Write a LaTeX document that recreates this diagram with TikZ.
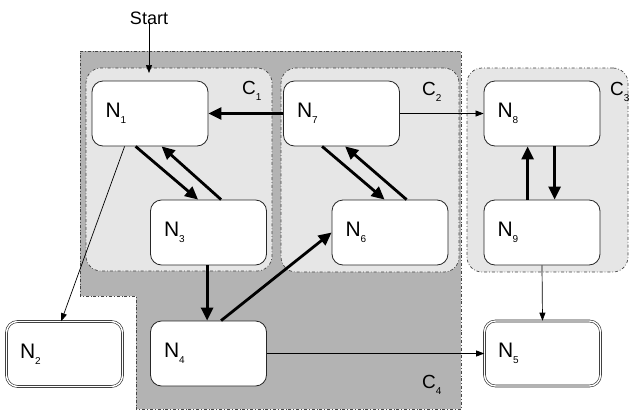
\documentclass[tikz,border=0pt]{standalone}
\usepackage{fontspec}
\setmainfont{Liberation Sans}
\usetikzlibrary{arrows.meta}
\definecolor{outerfill}{HTML}{B3B3B3}
\definecolor{innerfill}{HTML}{E6E6E6}
\definecolor{edgegray}{HTML}{444444}
\newcommand{\nsub}[2]{#1\raisebox{-6pt}{\fontsize{10}{10}\selectfont #2}}
\begin{document}
\begin{tikzpicture}[x=1pt,y=-1pt,
  cluster/.style={draw=edgegray, line width=0.7pt, dash dot, fill=innerfill,
    rounded corners=15pt},
  state/.style={draw=black!85, line width=0.8pt, fill=white, rounded corners=11pt,
    minimum width=116pt, minimum height=65pt, text width=89pt, inner xsep=13pt,
    align=left, font=\fontsize{21}{22}\selectfont},
  final/.style={state, double=white, double distance=1.4pt, line width=0.6pt},
  clabel/.style={font=\fontsize{19}{20}\selectfont, inner sep=0pt, anchor=west},
  thin/.style={line width=0.7pt, -{Triangle[length=8pt,width=6pt]}},
  thick/.style={line width=2.8pt, -{Triangle[length=13pt,width=12pt]}}]
\useasboundingbox (0,0) rectangle (630,410);

% outer cluster C4
\draw[fill=outerfill, draw=edgegray, line width=0.7pt, dash dot]
  (80,51) -- (461,51) -- (461,409) -- (136,409) -- (136,296) -- (80,296) -- cycle;

% inner clusters
\node[cluster, minimum width=186pt, minimum height=203pt] (c1) at (179,169.5) {};
\node[cluster, minimum width=178pt, minimum height=204pt] (c2) at (370,170) {};
\node[cluster, minimum width=161pt, minimum height=204pt] (c3) at (547.5,170) {};

\node[clabel] (l1) at (242,91) {\nsub{C}{1}};
\node[clabel] (l2) at (422,92) {\nsub{C}{2}};
\node[clabel] (l3) at (610,92) {\nsub{C}{3}};
\node[clabel] (l4) at (422,385) {\nsub{C}{4}};

% states
\node[state] (n1) at (150,113.5) {\nsub{N}{1}};
\node[state] (n7) at (341.5,113.5) {\nsub{N}{7}};
\node[state] (n8) at (542,113.5) {\nsub{N}{8}};
\node[state] (n3) at (208.5,232.5) {\nsub{N}{3}};
\node[state] (n6) at (390,232.5) {\nsub{N}{6}};
\node[state] (n9) at (542,232.5) {\nsub{N}{9}};
\node[state] (n4) at (208.5,353.5) {\nsub{N}{4}};
\node[final] (n2) at (64.5,354) {\nsub{N}{2}};
\node[final] (n5) at (542.5,353.5) {\nsub{N}{5}};

\node[font=\fontsize{18}{19}\selectfont, inner sep=0pt] (start) at (149,18) {Start};
\coordinate (entry) at (149,73);

% transitions
\draw[thin] (start.south) ++(0,-3) -- (entry);
\draw[thick] (n7.west) -- (n1.east);
\draw[thin] (n7.east) -- (n8.west);
\draw[thick] ([xshift=44pt]n1.south west) -- ([xshift=48pt]n3.north west);
\draw[thick] ([xshift=71pt]n3.north west) -- ([xshift=70pt]n1.south west);
\draw[thick] ([xshift=39pt]n7.south west) -- ([xshift=53pt]n6.north west);
\draw[thick] ([xshift=75pt]n6.north west) -- ([xshift=62pt]n7.south west);
\draw[thick] ([xshift=44pt]n9.north west) -- ([xshift=44pt]n8.south west);
\draw[thick] ([xshift=71pt]n8.south west) -- ([xshift=71pt]n9.north west);
\draw[thick] ([xshift=57pt]n3.south west) -- ([xshift=57pt]n4.north west);
\draw[thick] ([xshift=71pt]n4.north west) -- (n6.west);
\draw[thin] ([xshift=33pt]n1.south west) -- ([xshift=55pt]n2.north west);
\draw[thin] (n4.east) -- (n5.west);
\draw[thin] (n9.south) -- (n5.north);
\end{tikzpicture}
\end{document}
